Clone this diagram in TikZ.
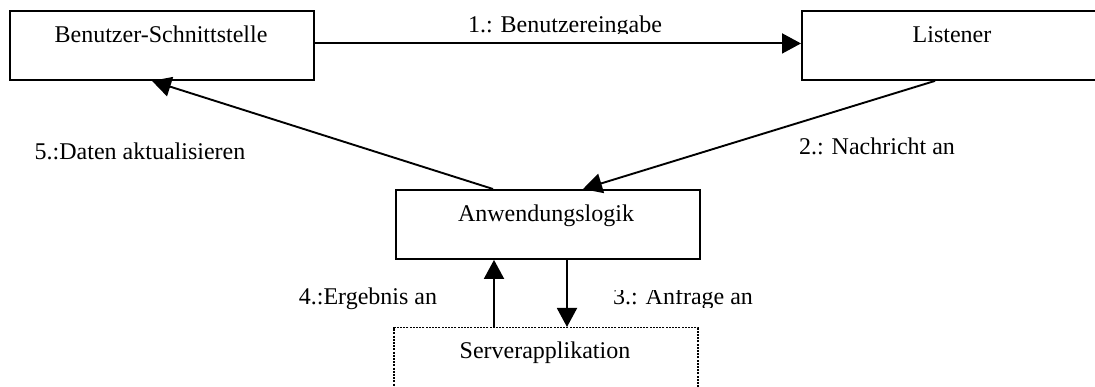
\documentclass[tikz,border=0pt]{standalone}
\usepackage{fontspec}
\setmainfont{Liberation Serif}
\usetikzlibrary{arrows.meta,calc}

\tikzset{
  box/.style={draw, line width=1.9pt, rectangle, inner sep=0pt, anchor=north west,
              minimum width=304pt, minimum height=69pt},
  dotbox/.style={box, line width=1.5pt, dash pattern=on 2pt off 1.2pt},
  txt/.style={anchor=base, inner sep=0pt, font=\fontsize{24}{28}\selectfont},
  msg/.style={line width=1.9pt, -{Triangle[length=19pt,width=20pt]}}
}

\begin{document}
\begin{tikzpicture}[x=1pt,y=-1pt]
  \useasboundingbox (0,0) rectangle (1095,387);
  \clip (0,0) rectangle (1095,387);

  % boxes
  \node[box] (ui)    at (9,10)   {};
  \node[box] (lis)   at (801,10) {};
  \node[box] (logic) at (395,189) {};
  \node[dotbox] (srv) at (393,327) {};

  % box captions
  \node[txt] (uiT)    at (161,43)  {Benutzer-Schnittstelle};
  \node[txt] (lisT)   at (952,43)  {Listener};
  \node[txt] (logicT) at (546,222) {Anwendungslogik};
  \node[txt] (srvT)   at (545,359) {Serverapplikation};

  % message flows
  \draw[msg] ([yshift=2pt]ui.east) -- ([yshift=2pt]lis.west);
  \draw[msg] ($(lis.south west)+(134,0)$) -- ($(logic.north west)+(188,0)$);
  \draw[msg] ($(logic.south west)+(172,0)$) coordinate (down) -- (down |- srv.north);
  \draw[msg] ($(srv.north west)+(101,0)$) coordinate (up) -- (up |- logic.south);
  \draw[msg] ($(logic.north west)+(98,0)$) -- ($(ui.south west)+(143,0)$);

  % message labels (some sit in frames that trim their glyphs)
  \begin{scope}
    \clip (440,0) rectangle (700,34);
    \node[txt] (m1) at (565,33) {1.: Benutzereingabe};
  \end{scope}
  \node[txt] (m2) at (877,155) {2.: Nachricht an};
  \begin{scope}
    \clip (600,290.5) rectangle (780,307.5);
    \node[txt] (m3) at (683,305) {3.: Anfrage an};
  \end{scope}
  \node[txt] (m4) at (368,305) {4.:Ergebnis an};
  \begin{scope}
    \clip (20,130) rectangle (270,161);
    \node[txt] (m5) at (140,160) {5.:Daten aktualisieren};
  \end{scope}
\end{tikzpicture}
\end{document}
